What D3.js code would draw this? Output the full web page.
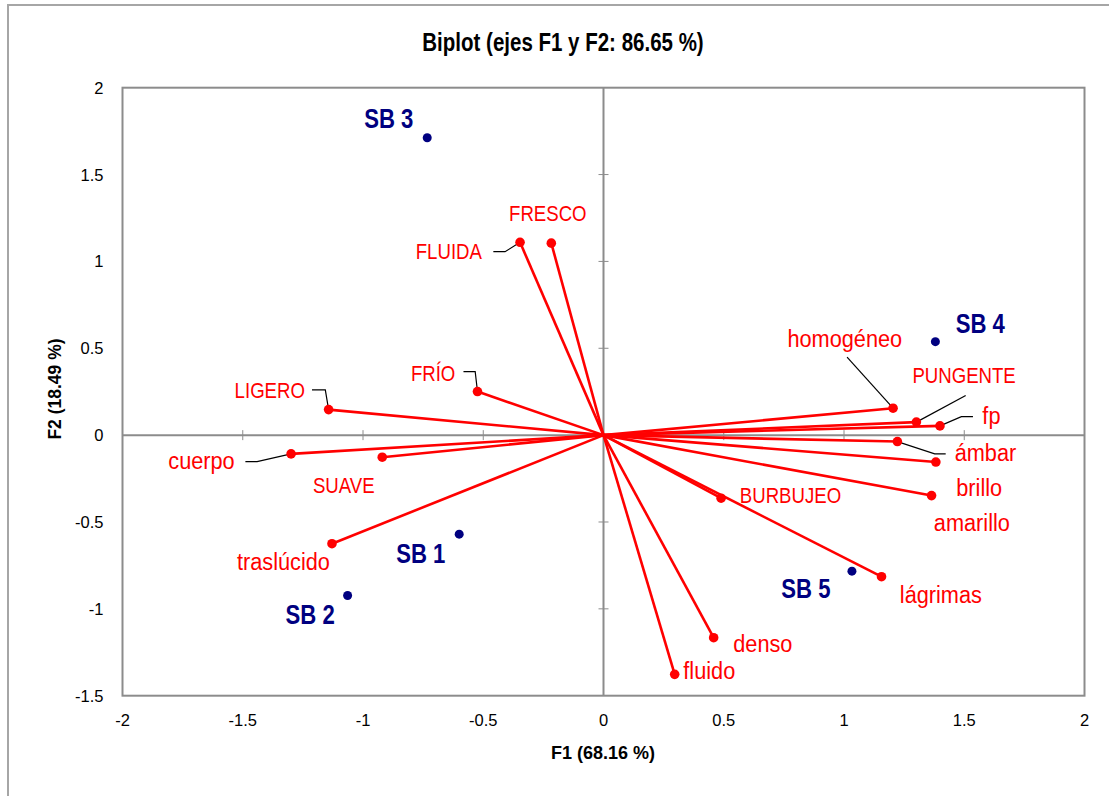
<!DOCTYPE html>
<html>
<head>
<meta charset="utf-8">
<script src="https://cdn.jsdelivr.net/npm/d3@7"></script>
<style>
  html, body { margin: 0; padding: 0; background: #fff; }
  svg { display: block; }
</style>
</head>
<body>
<svg id="chart" width="1109" height="796"></svg>
<script>
// Observations (products) on the first two factors
const obsNames = ["SB 1", "SB 2", "SB 3", "SB 4", "SB 5"];
const obsF1 = [-0.600, -1.064, -0.733, 1.380, 1.033];
const obsF2 = [-0.570, -0.923, 1.712, 0.538, -0.783];

// Sensory attributes (variable loadings)
const varNames = ["homogéneo", "PUNGENTE", "fp", "ámbar", "brillo", "amarillo", "BURBUJEO",
  "lágrimas", "denso", "fluido", "LIGERO", "FRÍO", "cuerpo", "SUAVE", "traslúcido", "FLUIDA", "FRESCO"];
const varF1 = [1.204, 1.301, 1.399, 1.222, 1.382, 1.364, 0.489,
  1.156, 0.458, 0.296, -1.143, -0.524, -1.299, -0.920, -1.129, -0.347, -0.217];
const varF2 = [0.155, 0.075, 0.053, -0.037, -0.155, -0.348, -0.363,
  -0.815, -1.166, -1.377, 0.147, 0.251, -0.108, -0.127, -0.625, 1.110, 1.105];

// Axis ticks and titles
const xTicks = [-2, -1.5, -1, -0.5, 0, 0.5, 1, 1.5, 2];
const yTicks = [-1.5, -1, -0.5, 0, 0.5, 1, 1.5, 2];
const chartTitle = "Biplot (ejes F1 y F2: 86.65 %)";
const xTitle = "F1 (68.16 %)";
const yTitle = "F2 (18.49 %)";

// Label placement: pixel offset from the point, optional leader line (pixel offsets)
const varLabelLayout = {
  "homogéneo": { dx: -105.6, dy: -61.6, leader: [[-46, -51]] },
  "PUNGENTE": { dx: -4, dy: -39, leader: [[49.3, -26.6]] },
  "fp": { dx: 42.4, dy: -2, leader: [[21.4, -9.3], [33, -9.3]] },
  "ámbar": { dx: 57.3, dy: 19.3, leader: [[37.3, 12.3], [48.3, 12.3]] },
  "brillo": { dx: 20.4, dy: 34.4 },
  "amarillo": { dx: 2.3, dy: 35.3 },
  "BURBUJEO": { dx: 18.7, dy: 4.4 },
  "lágrimas": { dx: 18.3, dy: 26 },
  "denso": { dx: 19.6, dy: 14.3 },
  "fluido": { dx: 8.6, dy: 4.6 },
  "LIGERO": { dx: -94, dy: -11.4, leader: [[-3.3, -19.7], [-16.6, -19.7]] },
  "FRÍO": { dx: -66.6, dy: -11, leader: [[-2.3, -20], [-14, -20]] },
  "cuerpo": { dx: -56.4, dy: 15.5, anchor: "end", leader: [[-34, 7.7], [-45.7, 7.7]] },
  "SUAVE": { dx: -69.3, dy: 35.4 },
  "traslúcido": { dx: -95, dy: 26 },
  "FLUIDA": { dx: -104.3, dy: 17, leader: [[-15, 9.4], [-26.7, 9.4]] },
  "FRESCO": { dx: -42.3, dy: -22.6 }
};
const obsLabelLayout = {
  "SB 1": { dx: -63, dy: 28.4 },
  "SB 2": { dx: -62, dy: 28.3 },
  "SB 3": { dx: -63, dy: -10 },
  "SB 4": { dx: 20.3, dy: -9 },
  "SB 5": { dx: -70.6, dy: 27 }
};

const RED = "#ff0000";
const NAVY = "#000080";
const GRAY = "#8c8c8c";
const FONT = '"Liberation Sans", Arial, sans-serif';

const svg = d3.select("#chart");

// Outer chart frame
svg.append("rect")
  .attr("x", 8).attr("y", 5).attr("width", 1120).attr("height", 820)
  .attr("fill", "none").attr("stroke", "#a6a6a6").attr("stroke-width", 2);

const x = d3.scaleLinear().domain([-2, 2]).range([122.5, 1084.5]);
const y = d3.scaleLinear().domain([-1.5, 2]).range([695.7, 87.7]);

// Condensed text: regular face compressed horizontally around its anchor
function narrowText(g, tx, ty, str, opts) {
  return g.append("text")
    .attr("transform", `translate(${tx},${ty}) scale(${opts.sx},1)`)
    .attr("text-anchor", opts.anchor || "start")
    .attr("font-family", FONT)
    .attr("font-size", opts.size)
    .attr("font-weight", opts.weight || "normal")
    .attr("fill", opts.fill)
    .text(str);
}

// Title
narrowText(svg, 563, 51, chartTitle, { anchor: "middle", size: 25, weight: "bold", fill: "#000", sx: 0.82 });

// Plot frame
svg.append("rect")
  .attr("x", x(-2)).attr("y", y(2))
  .attr("width", x(2) - x(-2)).attr("height", y(-1.5) - y(2))
  .attr("fill", "none").attr("stroke", GRAY).attr("stroke-width", 2);

// Zero axes with cross ticks
const axesG = svg.append("g");
axesG.append("line")
  .attr("x1", x(-2)).attr("x2", x(2)).attr("y1", y(0)).attr("y2", y(0))
  .attr("stroke", GRAY).attr("stroke-width", 2);
axesG.append("line")
  .attr("x1", x(0)).attr("x2", x(0)).attr("y1", y(-1.5)).attr("y2", y(2))
  .attr("stroke", GRAY).attr("stroke-width", 2);
axesG.selectAll(".xt").data(xTicks.filter(d => d > -2 && d < 2 && d !== 0)).join("line")
  .attr("x1", d => x(d)).attr("x2", d => x(d))
  .attr("y1", y(0) - 5).attr("y2", y(0) + 5)
  .attr("stroke", GRAY).attr("stroke-width", 1);
axesG.selectAll(".yt").data(yTicks.filter(d => d > -1.5 && d < 2 && d !== 0)).join("line")
  .attr("x1", x(0) - 5).attr("x2", x(0) + 5)
  .attr("y1", d => y(d)).attr("y2", d => y(d))
  .attr("stroke", GRAY).attr("stroke-width", 1);

// Tick labels
const fmt = d => String(d);
svg.append("g").selectAll("text").data(xTicks).join("text")
  .attr("x", d => x(d)).attr("y", y(-1.5) + 30)
  .attr("text-anchor", "middle")
  .attr("font-family", FONT).attr("font-size", 16.5).attr("fill", "#000")
  .text(fmt);
svg.append("g").selectAll("text").data(yTicks).join("text")
  .attr("x", 103.5).attr("y", d => y(d) + 6)
  .attr("text-anchor", "end")
  .attr("font-family", FONT).attr("font-size", 16.5).attr("fill", "#000")
  .text(fmt);

// Axis titles
svg.append("text")
  .attr("x", 603).attr("y", 759)
  .attr("text-anchor", "middle")
  .attr("font-family", FONT).attr("font-size", 18).attr("font-weight", "bold")
  .text(xTitle);
svg.append("text")
  .attr("transform", `translate(61,389) rotate(-90)`)
  .attr("text-anchor", "middle")
  .attr("font-family", FONT).attr("font-size", 17.5).attr("font-weight", "bold")
  .text(yTitle);

const vars = varNames.map((n, i) => ({ name: n, f1: varF1[i], f2: varF2[i] }));
const obs = obsNames.map((n, i) => ({ name: n, f1: obsF1[i], f2: obsF2[i] }));

// Leader lines from labels to their points
const leaderG = svg.append("g");
vars.forEach(v => {
  const L = varLabelLayout[v.name];
  if (!L.leader) return;
  const px = x(v.f1), py = y(v.f2);
  const pts = [[px, py]].concat(L.leader.map(([a, b]) => [px + a, py + b]));
  leaderG.append("path")
    .attr("d", d3.line()(pts))
    .attr("fill", "none").attr("stroke", "#000").attr("stroke-width", 1.2);
});

// Variable vectors from the origin
svg.append("g").selectAll("line").data(vars).join("line")
  .attr("x1", x(0)).attr("y1", y(0))
  .attr("x2", d => x(d.f1)).attr("y2", d => y(d.f2))
  .attr("stroke", RED).attr("stroke-width", 2.6);

svg.append("g").selectAll("circle").data(vars).join("circle")
  .attr("cx", d => x(d.f1)).attr("cy", d => y(d.f2)).attr("r", 4.8)
  .attr("fill", RED);

const varLabelG = svg.append("g");
vars.forEach(v => {
  const L = varLabelLayout[v.name];
  const caps = v.name === v.name.toUpperCase();
  narrowText(varLabelG, x(v.f1) + L.dx, y(v.f2) + L.dy, v.name,
    { anchor: L.anchor || "start", size: 23, fill: RED, sx: caps ? 0.81 : 0.945 });
});

// Observations
svg.append("g").selectAll("circle").data(obs).join("circle")
  .attr("cx", d => x(d.f1)).attr("cy", d => y(d.f2)).attr("r", 4.5)
  .attr("fill", NAVY);

const obsLabelG = svg.append("g");
obs.forEach(o => {
  const L = obsLabelLayout[o.name];
  narrowText(obsLabelG, x(o.f1) + L.dx, y(o.f2) + L.dy, o.name,
    { size: 27, weight: "bold", fill: NAVY, sx: 0.82 });
});
</script>
</body>
</html>
